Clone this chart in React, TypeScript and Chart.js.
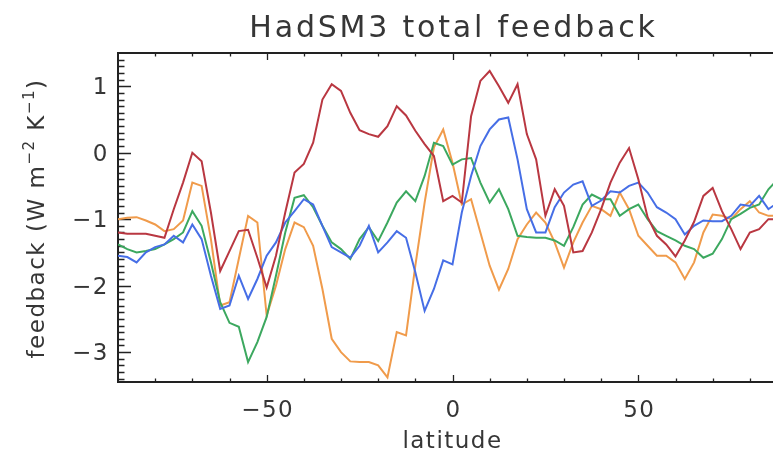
import React, { useEffect, useRef } from 'react';
import { Chart, registerables } from 'chart.js';

Chart.register(...registerables);

// ---- data ----
const latitudes = [
  -90, -87.5, -85, -82.5, -80, -77.5, -75, -72.5, -70, -67.5, -65, -62.5, -60, -57.5, -55, -52.5, -50, -47.5,
  -45, -42.5, -40, -37.5, -35, -32.5, -30, -27.5, -25, -22.5, -20, -17.5, -15, -12.5, -10, -7.5, -5, -2.5,
  0, 2.5, 5, 7.5, 10, 12.5, 15, 17.5, 20, 22.5, 25, 27.5, 30, 32.5, 35, 37.5, 40, 42.5,
  45, 47.5, 50, 52.5, 55, 57.5, 60, 62.5, 65, 67.5, 70, 72.5, 75, 77.5, 80, 82.5, 85, 87.5, 90,
];

const redValues = [
  -1.2, -1.22, -1.22, -1.22, -1.25, -1.28, -0.85, -0.45, 0.0, -0.13, -0.9, -1.78, -1.48, -1.18, -1.16, -1.58, -2.03, -1.55,
  -0.9, -0.3, -0.17, 0.15, 0.8, 1.03, 0.93, 0.6, 0.34, 0.28, 0.24, 0.4, 0.7, 0.56, 0.33, 0.13, -0.05, -0.73,
  -0.65, -0.75, 0.55, 1.08, 1.23, 1.0, 0.75, 1.03, 0.28, -0.1, -0.95, -0.55, -0.8, -1.5, -1.48, -1.2, -0.85, -0.45,
  -0.15, 0.07, -0.4, -0.97, -1.25, -1.38, -1.56, -1.32, -1.04, -0.65, -0.53, -0.88, -1.15, -1.45, -1.2, -1.15, -1.0, -1.0, -0.95,
];

const orangeValues = [
  -1.0, -0.98, -0.97, -1.02, -1.08, -1.18, -1.15, -1.02, -0.45, -0.5, -1.3, -2.3, -2.25, -1.6, -0.95, -1.05, -2.45, -2.0,
  -1.45, -1.05, -1.12, -1.4, -2.05, -2.8, -3.0, -3.14, -3.15, -3.15, -3.2, -3.38, -2.7, -2.75, -1.7, -0.75, 0.08, 0.35,
  -0.15, -0.78, -0.7, -1.2, -1.7, -2.06, -1.75, -1.3, -1.08, -0.9, -1.05, -1.35, -1.73, -1.35, -1.05, -0.8, -0.85, -0.95,
  -0.6, -0.85, -1.25, -1.4, -1.55, -1.55, -1.65, -1.9, -1.65, -1.2, -0.93, -0.95, -1.0, -0.85, -0.73, -0.9, -0.95, -0.95, -0.95,
];

const blueValues = [
  -1.55, -1.57, -1.65, -1.5, -1.42, -1.38, -1.25, -1.35, -1.08, -1.3, -1.85, -2.35, -2.3, -1.85, -2.2, -1.9, -1.55, -1.35,
  -1.05, -0.88, -0.7, -0.78, -1.1, -1.42, -1.5, -1.58, -1.4, -1.1, -1.5, -1.35, -1.18, -1.28, -1.8, -2.38, -2.05, -1.62,
  -1.68, -0.9, -0.35, 0.1, 0.35, 0.5, 0.53, -0.1, -0.85, -1.2, -1.2, -0.82, -0.6, -0.48, -0.43, -0.8, -0.72, -0.58,
  -0.6, -0.5, -0.45, -0.6, -0.82, -0.9, -1.0, -1.23, -1.1, -1.02, -1.03, -1.03, -0.95, -0.78, -0.8, -0.65, -0.85, -0.75, -0.7,
];

const greenValues = [
  -1.38, -1.45, -1.5, -1.48, -1.45, -1.38, -1.3, -1.2, -0.88, -1.1, -1.65, -2.25, -2.56, -2.62, -3.15, -2.85, -2.47, -1.85,
  -1.2, -0.68, -0.64, -0.82, -1.1, -1.35, -1.45, -1.6, -1.3, -1.12, -1.33, -1.05, -0.75, -0.58, -0.73, -0.35, 0.15, 0.1,
  -0.18, -0.1, -0.08, -0.45, -0.75, -0.55, -0.85, -1.25, -1.27, -1.28, -1.28, -1.32, -1.4, -1.12, -0.78, -0.63, -0.7, -0.7,
  -0.95, -0.85, -0.78, -1.0, -1.18, -1.25, -1.32, -1.4, -1.45, -1.58, -1.52, -1.3, -1.0, -0.92, -0.83, -0.78, -0.55, -0.4, -0.35,
];

const xTickValues = [-50, 0, 50];
const yTickValues = [-3, -2, -1, 0, 1];

const titleText = 'HadSM3 total feedback';
const xTitleText = 'latitude';

const FONT = '"DejaVu Sans", sans-serif';
const TEXT_COLOR = '#363636';

const fmt = (v: number) => (v < 0 ? '\u2212' + Math.abs(v) : String(v));

const idlPlugin = {
  id: 'idlFrame',
  beforeDatasetsDraw(chart: any) {
    const { ctx, chartArea: a, scales } = chart;
    const x = scales.x;
    const y = scales.y;
    ctx.save();
    ctx.strokeStyle = '#222';
    ctx.lineWidth = 1.3;
    ctx.beginPath();
    // x ticks (every 10, majors at labelled values)
    for (let v = -80; v <= 80; v += 10) {
      const px = Math.round(x.getPixelForValue(v)) + 0.5;
      const len = xTickValues.includes(v) ? 7 : 3.5;
      ctx.moveTo(px, a.bottom);
      ctx.lineTo(px, a.bottom - len);
      ctx.moveTo(px, a.top);
      ctx.lineTo(px, a.top + len);
    }
    // y ticks (every 0.1, majors at labelled values)
    for (let i = -34; i <= 14; i++) {
      const v = i / 10;
      const py = Math.round(y.getPixelForValue(v)) + 0.5;
      const len = i % 10 === 0 ? 13 : 6.5;
      ctx.moveTo(a.left, py);
      ctx.lineTo(a.left + len, py);
      ctx.moveTo(a.right, py);
      ctx.lineTo(a.right - len, py);
    }
    ctx.stroke();
    ctx.lineWidth = 2;
    ctx.strokeRect(a.left, a.top, a.right - a.left, a.bottom - a.top);
    ctx.restore();
  },
  afterDraw(chart: any) {
    const { ctx, chartArea: a, scales } = chart;
    const x = scales.x;
    const y = scales.y;
    ctx.save();
    ctx.fillStyle = TEXT_COLOR;

    // title
    ctx.font = `30px ${FONT}`;
    (ctx as any).letterSpacing = '2.8px';
    ctx.textAlign = 'center';
    ctx.textBaseline = 'alphabetic';
    ctx.fillText(titleText, (a.left + a.right) / 2 + 1, 37);

    // x tick labels
    ctx.font = `23px ${FONT}`;
    (ctx as any).letterSpacing = '1.5px';
    ctx.textAlign = 'center';
    ctx.textBaseline = 'middle';
    for (const v of xTickValues) {
      ctx.fillText(fmt(v), x.getPixelForValue(v) + 1, a.bottom + 29);
    }
    // x title
    ctx.fillText(xTitleText, (a.left + a.right) / 2, a.bottom + 60);

    // y tick labels
    ctx.textAlign = 'right';
    for (const v of yTickValues) {
      ctx.fillText(fmt(v), a.left - 9, y.getPixelForValue(v) + 2);
    }

    // y title (rotated, with superscripts)
    const base = 23;
    const sup = 15;
    const parts: [string, boolean][] = [
      ['feedback (W m', false],
      ['\u22122', true],
      [' K', false],
      ['\u22121', true],
      [')', false],
    ];
    ctx.textAlign = 'left';
    ctx.textBaseline = 'alphabetic';
    (ctx as any).letterSpacing = '1.5px';
    let total = 0;
    const widths = parts.map(([t, s]) => {
      ctx.font = `${s ? sup : base}px ${FONT}`;
      const w = ctx.measureText(t).width;
      total += w;
      return w;
    });
    ctx.translate(44, (a.top + a.bottom) / 2 + 1);
    ctx.rotate(-Math.PI / 2);
    let cx = -total / 2;
    parts.forEach(([t, s], i) => {
      ctx.font = `${s ? sup : base}px ${FONT}`;
      ctx.fillText(t, cx, s ? -10 : 0);
      cx += widths[i];
    });
    ctx.restore();
  },
};

export default function App() {
  const canvasRef = useRef<HTMLCanvasElement | null>(null);

  useEffect(() => {
    const canvas = canvasRef.current;
    if (!canvas) return;
    const series = [
      { values: redValues, color: 'rgb(185,55,65)' },
      { values: blueValues, color: 'rgb(70,110,230)' },
      { values: greenValues, color: 'rgb(60,168,95)' },
      { values: orangeValues, color: 'rgb(240,155,75)' },
    ];
    const chart = new Chart(canvas, {
      type: 'line',
      data: {
        datasets: series.map((s) => ({
          data: latitudes.map((lat, i) => ({ x: lat, y: s.values[i] })),
          borderColor: s.color,
          backgroundColor: s.color,
          borderWidth: 2,
          pointRadius: 0,
          fill: false,
          tension: 0,
        })),
      },
      options: {
        animation: false,
        responsive: false,
        maintainAspectRatio: false,
        devicePixelRatio: 1,
        layout: { padding: { left: 0, right: 13, top: 53, bottom: 0 } },
        plugins: {
          legend: { display: false },
          tooltip: { enabled: false },
          title: { display: false },
        },
        scales: {
          x: {
            type: 'linear',
            min: -90,
            max: 90,
            grid: { display: false },
            border: { display: false },
            ticks: { display: false },
            afterFit: (s: any) => {
              s.height = 85;
            },
          },
          y: {
            type: 'linear',
            min: -3.45,
            max: 1.5,
            grid: { display: false },
            border: { display: false },
            ticks: { display: false },
            afterFit: (s: any) => {
              s.width = 118;
            },
          },
        },
      },
      plugins: [idlPlugin],
    } as any);
    return () => chart.destroy();
  }, []);

  return (
    <div
      style={{
        position: 'fixed',
        left: 0,
        top: 0,
        width: 773,
        height: 467,
        overflow: 'hidden',
        background: '#fff',
      }}
    >
      <canvas ref={canvasRef} width={800} height={467} style={{ width: 800, height: 467, display: 'block' }} />
    </div>
  );
}
